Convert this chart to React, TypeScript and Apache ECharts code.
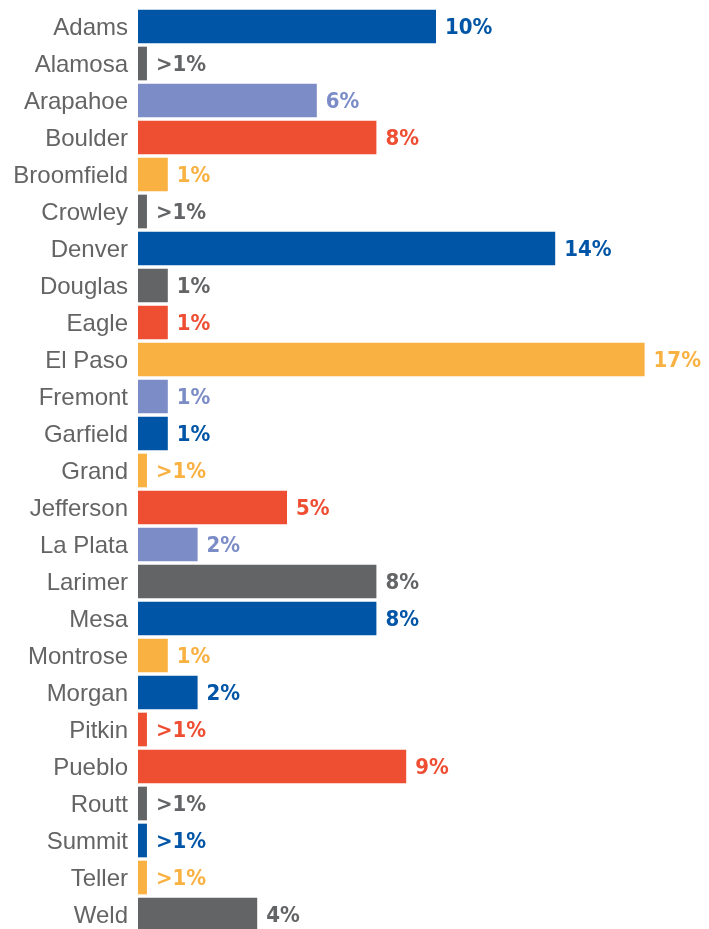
import React, { useEffect, useRef } from "react";
import * as echarts from "echarts";

const categories = ["Adams", "Alamosa", "Arapahoe", "Boulder", "Broomfield", "Crowley", "Denver", "Douglas", "Eagle", "El Paso", "Fremont", "Garfield", "Grand", "Jefferson", "La Plata", "Larimer", "Mesa", "Montrose", "Morgan", "Pitkin", "Pueblo", "Routt", "Summit", "Teller", "Weld"];
const values = [10, 0.3, 6, 8, 1, 0.3, 14, 1, 1, 17, 1, 1, 0.3, 5, 2, 8, 8, 1, 2, 0.3, 9, 0.3, 0.3, 0.3, 4];
const valueLabels = ["10%", ">1%", "6%", "8%", "1%", ">1%", "14%", "1%", "1%", "17%", "1%", "1%", ">1%", "5%", "2%", "8%", "8%", "1%", "2%", ">1%", "9%", ">1%", ">1%", ">1%", "4%"];
const colorKeys = ["blue", "gray", "purple", "red", "orange", "gray", "blue", "gray", "red", "orange", "purple", "blue", "orange", "red", "purple", "gray", "blue", "orange", "blue", "red", "red", "gray", "blue", "orange", "gray"];

const palette: Record<string, string> = {
  blue: "#0055A6",
  gray: "#636466",
  purple: "#7B8CC7",
  red: "#EE4E32",
  orange: "#F9B141",
};

export default function App() {
  const ref = useRef<HTMLDivElement>(null);
  useEffect(() => {
    if (!ref.current) return;
    const chart = echarts.init(ref.current, null, { renderer: "svg" });
    chart.setOption({
      animation: false,
      grid: { left: 138, right: 4.8, top: 8, bottom: 2, containLabel: false },
      xAxis: {
        type: "value",
        min: 0,
        max: 19,
        show: false,
      },
      yAxis: {
        type: "category",
        inverse: true,
        data: categories,
        axisLine: { show: false },
        axisTick: { show: false },
        splitLine: { show: false },
        axisLabel: {
          margin: 10,
          fontFamily: "Liberation Sans, Arial, sans-serif",
          fontSize: 24,
          color: "#646464",
        },
      },
      series: [
        {
          type: "bar",
          barCategoryGap: "9%",
          data: values.map((v, i) => ({
            value: v,
            itemStyle: { color: palette[colorKeys[i]] },
            label: { color: palette[colorKeys[i]] },
          })),
          label: {
            show: true,
            position: "right",
            distance: 9,
            fontFamily: "'DejaVu Sans Condensed', 'DejaVu Sans', sans-serif",
            fontWeight: "bold",
            fontSize: 22,
            formatter: (p: any) => valueLabels[p.dataIndex],
          },
        },
      ],
    });
    return () => chart.dispose();
  }, []);
  return (
    <div
      ref={ref}
      style={{ position: "fixed", left: 0, top: 0, width: 709, height: 935 }}
    />
  );
}
